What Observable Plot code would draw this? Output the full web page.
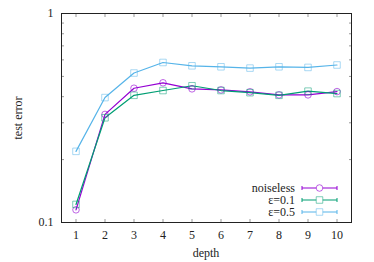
<!DOCTYPE html>
<html><head><meta charset="utf-8">
<script src="https://cdn.jsdelivr.net/npm/d3@7"></script>
<script src="https://cdn.jsdelivr.net/npm/@observablehq/plot@0.6"></script>
<style>body{margin:0;background:#fff}</style>
</head><body><div id="chart"></div>
<script>
const depth = [1, 2, 3, 4, 5, 6, 7, 8, 9, 10];
const noiseless = [0.115, 0.329, 0.439, 0.466, 0.436, 0.431, 0.422, 0.408, 0.408, 0.423];
const eps01 = [0.122, 0.317, 0.406, 0.428, 0.451, 0.428, 0.418, 0.406, 0.425, 0.414];
const eps05 = [0.219, 0.396, 0.519, 0.583, 0.562, 0.556, 0.548, 0.556, 0.552, 0.567];
const seriesNames = ["noiseless", "ε=0.1", "ε=0.5"];
const seriesColors = ["#9400d3", "#009e73", "#56b4e9"];
const seriesSymbols = ["circle", "square", "square"];
const yMajorTicks = [0.1, 1];
const yMinorTicks = [0.2, 0.3, 0.4, 0.5, 0.6, 0.7, 0.8, 0.9];
const xLabel = "depth";
const yLabel = "test error";

const rows = [];
[noiseless, eps01, eps05].forEach((vals, s) =>
  vals.forEach((v, i) => rows.push({series: seriesNames[s], depth: depth[i], err: v})));

const tickColor = "#999";
const plot = Plot.plot({
  width: 374, height: 262,
  marginLeft: 61, marginRight: 23, marginTop: 13, marginBottom: 40,
  style: {fontFamily: "'Liberation Serif', 'DejaVu Serif', serif", fontSize: "12px", background: "#fff", color: "#222"},
  x: {type: "linear", domain: [0.5, 10.5]},
  y: {type: "log", domain: [0.1, 1]},
  color: {domain: seriesNames, range: seriesColors},
  symbol: {domain: seriesNames, range: seriesSymbols},
  marks: [
    Plot.axisX({ticks: depth, tickSize: 0, tickPadding: 8, tickFormat: d => String(d), label: null}),
    Plot.axisX({ticks: depth, tickSize: -3, tickFormat: () => "", label: null, stroke: tickColor}),
    Plot.axisX({anchor: "top", ticks: depth, tickSize: -3, tickFormat: () => "", label: null, stroke: tickColor}),
    Plot.axisY({ticks: yMajorTicks, tickSize: 0, tickPadding: 8, tickFormat: d => String(d), label: null}),
    Plot.axisY({ticks: yMinorTicks, tickSize: -3, tickFormat: () => "", label: null, stroke: tickColor}),
    Plot.axisY({anchor: "right", ticks: yMinorTicks, tickSize: -3, tickFormat: () => "", label: null, stroke: tickColor}),
    Plot.line(rows, {x: "depth", y: "err", z: "series", stroke: "series", strokeWidth: 1.2}),
    Plot.dot(rows.filter(d => d.series === "noiseless"), {x: "depth", y: "err", stroke: "series", symbol: "series", r: 3.3, strokeOpacity: 0.6, strokeWidth: 1}),
    Plot.dot(rows.filter(d => d.series !== "noiseless"), {x: "depth", y: "err", stroke: "series", symbol: "series", r: 3.7, strokeOpacity: 0.5, strokeWidth: 1}),
    Plot.frame({stroke: "#222"})
  ]
});
document.getElementById("chart").appendChild(plot);

const svg = d3.select(plot);
const font = "'Liberation Serif', 'DejaVu Serif', serif";
svg.append("text").attr("x", 206).attr("y", 257).attr("text-anchor", "middle")
  .attr("font-family", font).attr("font-size", 12).attr("fill", "#222").text(xLabel);
svg.append("text").attr("transform", "translate(22,118) rotate(-90)").attr("text-anchor", "middle")
  .attr("font-family", font).attr("font-size", 12).attr("fill", "#222").text(yLabel);

// legend
const lg = svg.append("g");
seriesNames.forEach((name, i) => {
  const cy = 188 + i * 12;
  lg.append("text").attr("x", 295).attr("y", cy + 4).attr("text-anchor", "end")
    .attr("font-family", font).attr("font-size", 12).attr("fill", "#222").text(name);
  const c = seriesColors[i];
  lg.append("line").attr("x1", 302).attr("x2", 337).attr("y1", cy).attr("y2", cy).attr("stroke", c).attr("stroke-width", 1.2);
  lg.append("line").attr("x1", 302).attr("x2", 302).attr("y1", cy - 2).attr("y2", cy + 2).attr("stroke", c);
  lg.append("line").attr("x1", 337).attr("x2", 337).attr("y1", cy - 2).attr("y2", cy + 2).attr("stroke", c);
  const sym = d3.symbol(seriesSymbols[i] === "circle" ? d3.symbolCircle : d3.symbolSquare, seriesSymbols[i] === "circle" ? Math.PI * 3.3 * 3.3 : Math.PI * 3.7 * 3.7);
  lg.append("path").attr("d", sym()).attr("transform", `translate(319.5,${cy})`)
    .attr("fill", "#fff").attr("stroke", c).attr("stroke-opacity", seriesSymbols[i] === "circle" ? 0.6 : 0.5);
});
</script>
</body></html>
